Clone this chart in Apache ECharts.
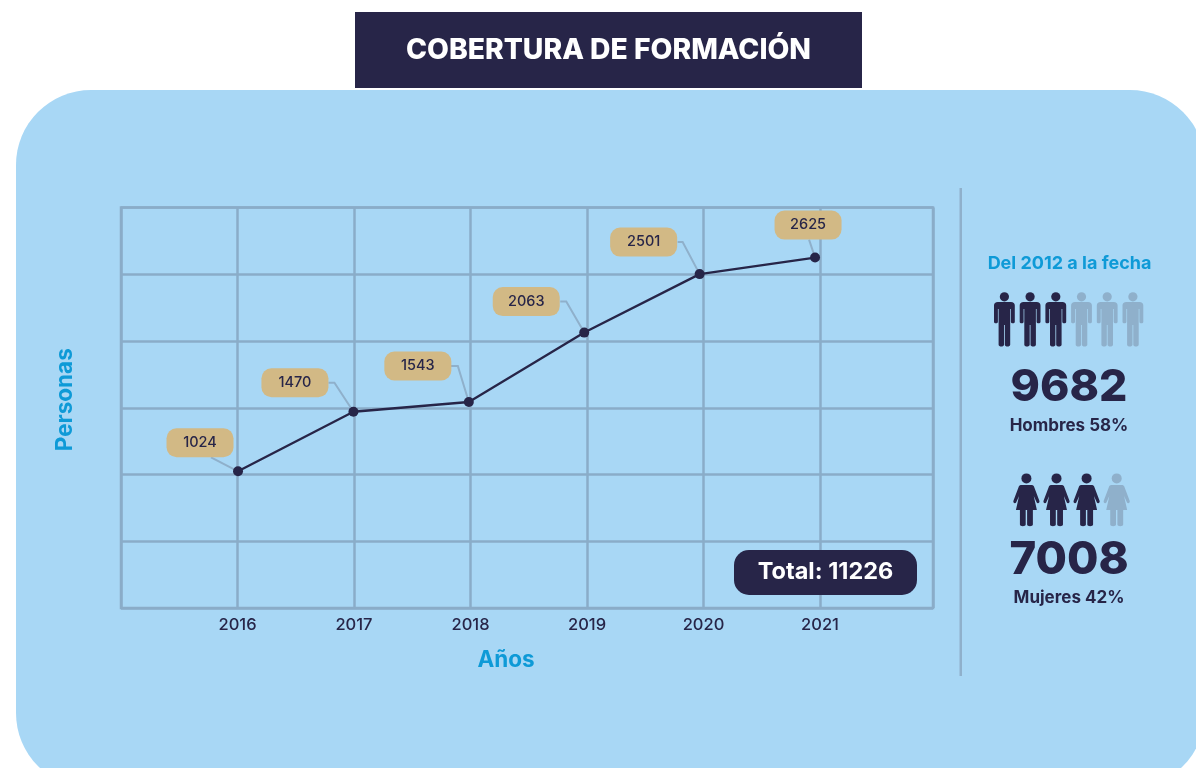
<!DOCTYPE html>
<html><head><meta charset="utf-8">
<style>html,body{margin:0;padding:0;background:#fff}#c{width:1196px;height:768px}</style>
<script src="https://cdn.jsdelivr.net/npm/echarts@6/dist/echarts.min.js"></script>
</head><body><div id="c"></div>
<script>
const years = [2016, 2017, 2018, 2019, 2020, 2021];
const personas = [1024, 1470, 1543, 2063, 2501, 2625];
const titleText = 'COBERTURA DE FORMACIÓN';
const totalText = 'Total: 11226';
const sideTitle = 'Del 2012 a la fecha';
const menValue = '9682', menLabel = 'Hombres 58%';
const womenValue = '7008', womenLabel = 'Mujeres 42%';
const menIcons = [1, 1, 1, 0, 0, 0];
const womenIcons = [1, 1, 1, 0];

const DARK = '#272548', LIGHT = '#8FB0CB', BLUE = '#0E9AD7', TAN = '#D2B985', PANEL = '#A8D7F5', GRID = '#8AACC8';
const FONT = 'Inter, "Open Sans", sans-serif';

// callout placement relative to each point (label centre, then leader vertices)
const labelOffsets = [[-38, -28.5], [-58.5, -29], [-51, -36], [-58, -31], [-56, -32], [-7, -32.5]];
const leaders = [
  [[-27, -14], [0, 0]],
  [[-25, -29], [-19, -29], [0, 0]],
  [[-18, -36], [-11, -36], [0, 0]],
  [[-24, -31], [-18, -31], [0, 0]],
  [[-22, -32], [-17, -32], [0, 0]],
  [[-6, -18], [0, 0]]
];

const MAN = 'M-6.5,0H6.5C9,0 10.4,1.4 10.4,3.6V19.8C10.4,21.8 6.5,21.8 6.5,19.8V7H5.8V42.6C5.8,45 .4,45 .4,42.6V23H-.4V42.6C-.4,45 -5.8,45 -5.8,42.6V7H-6.5V19.8C-6.5,21.8 -10.4,21.8 -10.4,19.8V3.6C-10.4,1.4 -9,0 -6.5,0Z';
const WOMAN = 'M-5,0H5C6.2,0 7.2,.5 7.6,1.5L13,15.6C13.8,18 11,19 10.2,17.2L7.4,11L10.5,25H6.5V39.5C6.5,41.8 .7,41.8 .7,39.5V25H-.7V39.5C-.7,41.8 -6.5,41.8 -6.5,39.5V25H-10.5L-7.4,11L-10.2,17.2C-11,19 -13.8,18 -13,15.6L-7.6,1.5C-7.2,.5 -6.2,0 -5,0Z';

function iconSeries(list, x0, step, headY, headR, bodyY, path, w, h) {
  return {
    type: 'custom', coordinateSystem: 'none', silent: true, z: 5,
    data: list.map((on, i) => [i, on]),
    renderItem: (p, api) => {
      const fill = api.value(1) ? DARK : LIGHT, x = x0 + api.value(0) * step;
      return {type: 'group', children: [
        {type: 'circle', shape: {cx: x, cy: headY, r: headR}, style: {fill}},
        {type: 'path', shape: {pathData: path, layout: 'cover', x: x - w / 2, y: bodyY, width: w, height: h}, style: {fill}}
      ]};
    }
  };
}
function txt(text, x, y, size, weight, fill) {
  return {type: 'text', z: 6, x, y, style: {text, fill, font: weight + ' ' + size + 'px ' + FONT, align: 'center', verticalAlign: 'middle'}};
}

const chart = echarts.init(document.getElementById('c'));
chart.setOption({
  animation: false,
  backgroundColor: '#fff',
  grid: {left: 121, top: 207.5, width: 812, height: 400.5, show: true, borderColor: GRID, borderWidth: 2.5, backgroundColor: 'transparent'},
  xAxis: [
    {type: 'value', min: 2015, max: 2021.97, interval: 1,
     name: 'Años', nameLocation: 'middle', nameGap: 41,
     nameTextStyle: {color: BLUE, fontFamily: FONT, fontWeight: 700, fontSize: 22.5, padding: [0, 42, 0, 0]},
     axisLine: {show: false}, axisTick: {show: false},
     splitLine: {show: true, lineStyle: {color: GRID, width: 2.5}},
     axisLabel: {color: DARK, fontFamily: FONT, fontWeight: 500, fontSize: 16.5, margin: 9,
       formatter: v => years.includes(v) ? String(v) : ''}},
    {type: 'value', min: 2014.986, max: 2022.022, show: false}
  ],
  yAxis: {type: 'value', min: 0, max: 3000, interval: 500,
    name: 'Personas', nameLocation: 'middle', nameGap: 44,
    nameTextStyle: {color: BLUE, fontFamily: FONT, fontWeight: 700, fontSize: 22.5, padding: [0, 0, 0, 16]},
    axisLine: {show: false}, axisTick: {show: false}, axisLabel: {show: false},
    splitLine: {show: true, lineStyle: {color: GRID, width: 2.5}}},
  series: [
    {type: 'custom', xAxisIndex: 1, z: 2, silent: true,
     data: years.map((y, i) => [y, personas[i]]),
     renderItem: (p, api) => {
       const c = api.coord([api.value(0), api.value(1)]);
       return {type: 'polyline',
         shape: {points: leaders[p.dataIndex].map(o => [c[0] + o[0], c[1] + o[1]])},
         style: {stroke: LIGHT, lineWidth: 2, fill: null}};
     }},
    {type: 'line', xAxisIndex: 1, z: 3, silent: true,
     data: years.map((y, i) => [y, personas[i]]),
     symbol: 'circle', symbolSize: 10,
     lineStyle: {color: DARK, width: 2.3},
     itemStyle: {color: DARK},
     label: {show: true, position: 'inside',
       formatter: p => String(p.value[1]),
       color: DARK, fontFamily: FONT, fontWeight: 500, fontSize: 14.5,
       backgroundColor: TAN, borderRadius: 10, width: 67, height: 29, lineHeight: 29, align: 'center', verticalAlign: 'middle'},
     labelLayout: p => ({dx: labelOffsets[p.dataIndex][0], dy: labelOffsets[p.dataIndex][1]})},
    iconSeries(menIcons, 1004.4, 25.7, 296.8, 4.6, 302, MAN, 20.8, 44.5),
    iconSeries(womenIcons, 1026.4, 30.1, 478.4, 5, 485, WOMAN, 26.2, 41.3)
  ],
  graphic: {elements: [
    {type: 'rect', z: -10, shape: {x: 16, y: 90, width: 1189, height: 698, r: 75}, style: {fill: PANEL}},
    {type: 'rect', z: 5, shape: {x: 355, y: 12, width: 507, height: 76}, style: {fill: DARK}},
    txt(titleText, 608.5, 50.5, 28.3, 800, '#fff'),
    {type: 'rect', z: 5, shape: {x: 734, y: 550, width: 183, height: 45, r: 15}, style: {fill: DARK}},
    txt(totalText, 825.5, 572, 23.5, 700, '#fff'),
    {type: 'rect', z: 5, shape: {x: 959.5, y: 188, width: 2.5, height: 488}, style: {fill: LIGHT}},
    txt(sideTitle, 1069.5, 264, 18, 700, BLUE),
    txt(menValue, 1069, 388, 44.5, 800, DARK),
    txt(menLabel, 1069, 426, 17, 700, DARK),
    txt(womenValue, 1069, 560, 45.5, 800, DARK),
    txt(womenLabel, 1069, 598, 17, 700, DARK)
  ]}
});
</script></body></html>
